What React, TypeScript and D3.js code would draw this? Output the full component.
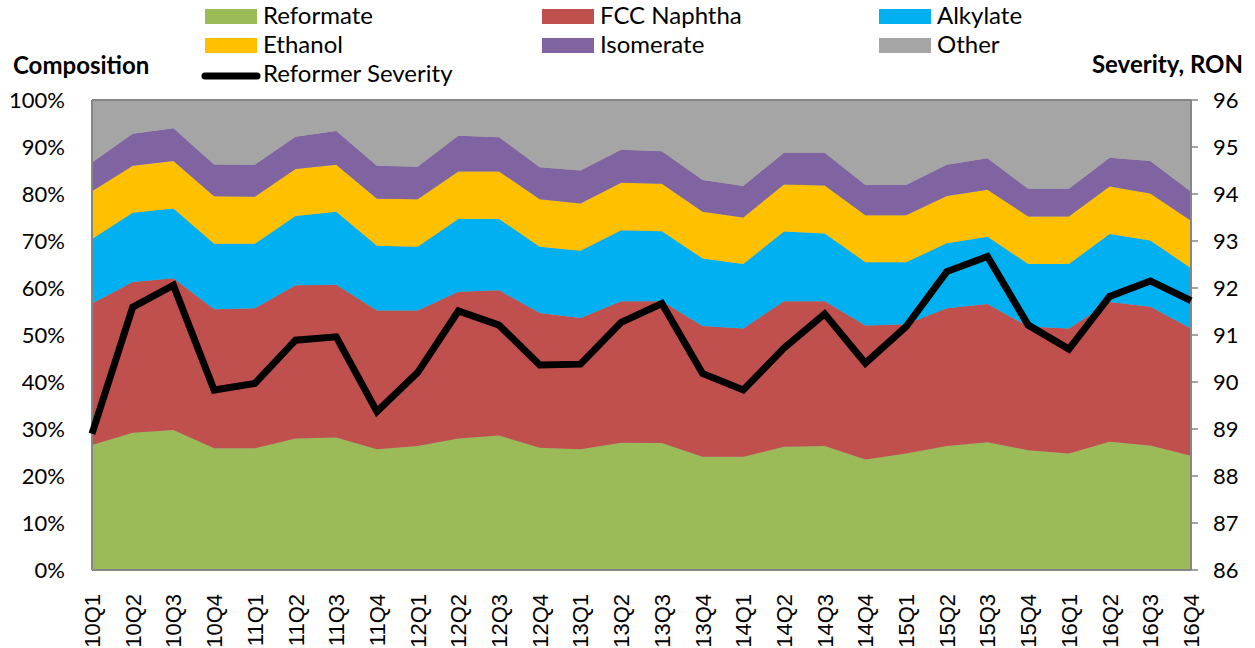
import React from "react";
import * as d3 from "d3";

const quarters = ["10Q1","10Q2","10Q3","10Q4","11Q1","11Q2","11Q3","11Q4","12Q1","12Q2","12Q3","12Q4","13Q1","13Q2","13Q3","13Q4","14Q1","14Q2","14Q3","14Q4","15Q1","15Q2","15Q3","15Q4","16Q1","16Q2","16Q3","16Q4"];

const reformate = [26.6,29.2,29.8,25.9,25.9,28.0,28.2,25.7,26.4,28.0,28.6,26.0,25.7,27.1,27.0,24.1,24.1,26.2,26.4,23.5,24.8,26.4,27.2,25.5,24.8,27.3,26.5,24.3];
const fccNaphtha = [30.1,32.1,32.3,29.6,29.8,32.6,32.5,29.5,28.8,31.2,30.9,28.7,27.9,30.1,30.2,27.8,27.3,31.0,30.8,28.5,27.5,29.3,29.4,26.3,26.6,29.7,29.5,27.1];
const alkylate = [13.7,14.7,14.8,13.9,13.7,14.7,15.5,13.8,13.6,15.5,15.2,14.1,14.3,15.1,14.9,14.4,13.7,14.8,14.4,13.5,13.2,13.8,14.3,13.3,13.7,14.5,14.1,12.8];
const ethanol = [10.2,10.0,10.1,10.1,10.0,10.0,10.0,10.0,10.1,10.1,10.1,10.1,10.1,10.1,10.1,9.9,9.9,10.0,10.2,10.0,10.0,10.1,10.0,10.1,10.1,10.1,10.0,10.1];
const isomerate = [6.1,6.8,7.0,6.8,6.8,6.9,7.2,7.0,6.9,7.6,7.3,6.8,7.0,7.0,6.9,6.8,6.7,6.8,7.0,6.4,6.4,6.6,6.7,5.9,5.9,6.1,6.9,6.2];
const other = [13.3,7.2,6.0,13.7,13.8,7.8,6.6,14.0,14.2,7.6,7.9,14.3,15.0,10.6,10.9,17.0,18.3,11.2,11.2,18.1,18.1,13.8,12.4,18.9,18.9,12.3,13.0,19.5];
const severity = [88.9,91.59,92.06,89.83,89.97,90.89,90.96,89.37,90.2,91.51,91.21,90.36,90.38,91.27,91.67,90.18,89.83,90.72,91.45,90.4,91.18,92.35,92.67,91.21,90.7,91.82,92.15,91.73];

const seriesNames = ["Reformate","FCC Naphtha","Alkylate","Ethanol","Isomerate","Other"];
const seriesColors = ["#9BBB59","#C0504D","#00B0F0","#FFC000","#8064A2","#A5A5A5"];
const seriesValues = [reformate, fccNaphtha, alkylate, ethanol, isomerate, other];
const leftTicks = [0,10,20,30,40,50,60,70,80,90,100];
const rightTicks = [86,87,88,89,90,91,92,93,94,95,96];

const W = 1255, H = 648;
const L = 92, R = 1191, T = 100, B = 570;
const FONT = "Lato, 'Open Sans', sans-serif";

export default function App() {
  const x = d3.scalePoint<string>().domain(quarters).range([L, R]);
  const yL = d3.scaleLinear().domain([0, 100]).range([B, T]);
  const yR = d3.scaleLinear().domain([86, 96]).range([B, T]);

  const rows = quarters.map((q, i) => {
    const o: any = { q };
    seriesNames.forEach((n, k) => (o[n] = seriesValues[k][i]));
    return o;
  });
  const stacked = d3.stack<any>().keys(seriesNames)(rows);
  const area = d3.area<any>()
    .x((d) => x(d.data.q) as number)
    .y0((d) => yL(d[0]))
    .y1((d) => yL(Math.min(d[1], 100)));
  const line = d3.line<number>()
    .x((_, i) => x(quarters[i]) as number)
    .y((d) => yR(d));

  const legendCols = [205, 542, 879];
  const legendRows = [9, 38];

  return (
    <svg width={W} height={H} style={{ position: "absolute", left: 0, top: 0 }} fontFamily={FONT}>
      <rect x={0} y={0} width={W} height={H} fill="#fff" />
      {/* plot background */}
      <rect x={L} y={T} width={R - L} height={B - T} fill="#A5A5A5" />
      {stacked.map((s, k) => (
        <path key={k} d={area(s) as string} fill={seriesColors[k]} />
      ))}
      {/* frame */}
      <line x1={L} x2={R} y1={T} y2={T} stroke="#868686" strokeWidth={2} />
      <line x1={L} x2={L} y1={T} y2={B} stroke="#868686" strokeWidth={2} />
      <line x1={L} x2={R} y1={B} y2={B} stroke="#868686" strokeWidth={2} />
      <line x1={R} x2={R} y1={T} y2={B} stroke="#868686" strokeWidth={2} />
      {rightTicks.map((t) => (
        <line key={t} x1={R} x2={R + 7} y1={yR(t)} y2={yR(t)} stroke="#868686" strokeWidth={1.5} />
      ))}
      {/* severity line */}
      <path d={line(severity) as string} fill="none" stroke="#000" strokeWidth={7} strokeLinejoin="miter" />
      {/* left tick labels */}
      {leftTicks.map((t) => (
        <text key={t} x={65} y={yL(t)} dy="0.35em" textAnchor="end" fontSize={22} fill="#000">{t + "%"}</text>
      ))}
      {rightTicks.map((t) => (
        <text key={t} x={1213} y={yR(t)} dy="0.35em" textAnchor="start" fontSize={22} fill="#000">{t}</text>
      ))}
      {/* x labels */}
      {quarters.map((q) => (
        <text key={q} transform={`translate(${(x(q) as number) + 8},594) rotate(-90)`} textAnchor="end"
          fontSize={22} fontFamily="'Liberation Sans', Arial, sans-serif" fill="#000">{q}</text>
      ))}
      {/* axis titles */}
      <text x={13} y={74} fontSize={24} fontWeight="bold" fill="#000">Composition</text>
      <text x={1243} y={73} fontSize={24} fontWeight="bold" textAnchor="end" fill="#000">Severity, RON</text>
      {/* legend */}
      {seriesNames.map((n, k) => {
        const cx = legendCols[k % 3];
        const ry = legendRows[Math.floor(k / 3)];
        return (
          <g key={n}>
            <rect x={cx} y={ry} width={52} height={15} fill={seriesColors[k]} />
            <text x={cx + 58} y={ry + 15} fontSize={24} fill="#000">{n}</text>
          </g>
        );
      })}
      <line x1={205} x2={257} y1={76} y2={76} stroke="#000" strokeWidth={7} strokeLinecap="round" />
      <text x={263} y={82} fontSize={24} fill="#000">Reformer Severity</text>
    </svg>
  );
}
